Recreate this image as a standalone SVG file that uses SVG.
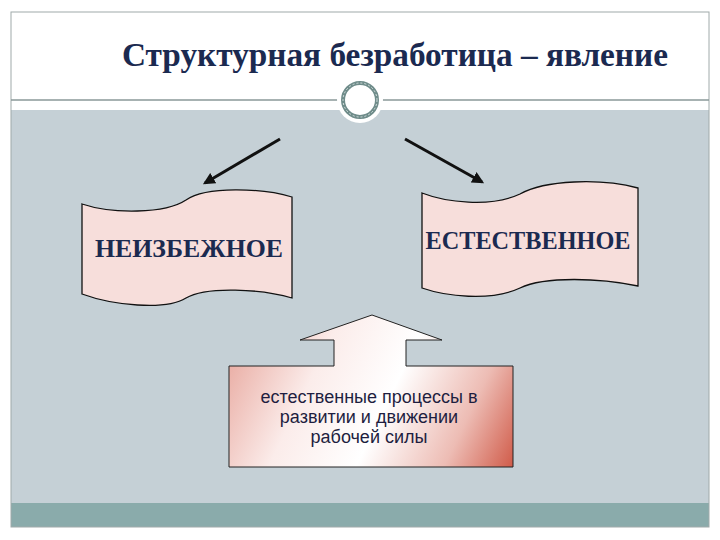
<svg xmlns="http://www.w3.org/2000/svg" width="720" height="540" viewBox="0 0 720 540">
  <style>
    .title{font-family:"Liberation Serif","DejaVu Serif",serif;font-weight:bold;font-size:33px;fill:#1b2a50}
    .banner{fill:#f7dedb;stroke:#111;stroke-width:1.3}
    .btext{font-family:"Liberation Serif","DejaVu Serif",serif;font-weight:bold;font-size:25px;fill:#1b2a50;text-anchor:middle}
    .stext{font-family:"Liberation Sans","DejaVu Sans",sans-serif;font-size:18px;fill:#1e1e40;text-anchor:middle}
    .conn{stroke:#111;stroke-width:3;fill:none;marker-end:url(#ah)}
  </style>
  <defs>
    <marker id="ah" viewBox="0 0 10 10" refX="8" refY="5" markerWidth="4" markerHeight="4" orient="auto" markerUnits="strokeWidth">
      <path d="M0,0 L10,5 L0,10 Z" fill="#111"/>
    </marker>
    <linearGradient id="g" gradientUnits="userSpaceOnUse" x1="229" y1="330" x2="514" y2="467">
      <stop offset="0" stop-color="#e7a49a"/>
      <stop offset="0.3" stop-color="#fbecea"/>
      <stop offset="0.55" stop-color="#ffffff"/>
      <stop offset="0.8" stop-color="#edbcb4"/>
      <stop offset="1" stop-color="#d05a48"/>
    </linearGradient>
  </defs>
  <rect x="0" y="0" width="720" height="540" fill="#ffffff"/>
  <rect x="11" y="110" width="698" height="393" fill="#c5d0d6"/>
  <rect x="11" y="503" width="698" height="24" fill="#8aabab"/>
  <rect x="11" y="12" width="698" height="515" fill="none" stroke="#a0aaaa" stroke-width="1"/>
  <line x1="11" y1="100" x2="709" y2="100" stroke="#8a9898" stroke-width="1.3"/>
  <g id="title">
    <text class="title" x="122" y="66" textLength="546" lengthAdjust="spacingAndGlyphs">Структурная безработица – явление</text>
  </g>
  <g id="ornament">
    <circle cx="360" cy="100" r="23" fill="#ffffff"/>
    <circle cx="360" cy="100" r="17" fill="#ffffff" stroke="#6f8c8a" stroke-width="4"/>
    <circle cx="360" cy="100" r="17" fill="none" stroke="#d5e0df" stroke-width="1" stroke-dasharray="2 2"/>
  </g>
  <g id="connectors">
    <line class="conn" x1="280" y1="139" x2="205" y2="183"/>
    <line class="conn" x1="405" y1="139" x2="482" y2="182"/>
  </g>
  <g id="node-inevitable">
    <path class="banner" d="M82,204 C112,214 165,214 186,200 C206,186 262,188 292,197 L292,298 C262,289 206,286 186,298 C165,311 112,305 82,294 Z"/>
    <text class="btext" x="189" y="257" textLength="188" lengthAdjust="spacingAndGlyphs">НЕИЗБЕЖНОЕ</text>
  </g>
  <g id="node-natural">
    <path class="banner" d="M422,193 C445,202 490,208 520,194 C545,180 600,178 638,188 L638,286 C600,278 545,276 520,288 C490,302 445,296 422,288 Z"/>
    <text class="btext" x="528" y="249" textLength="205" lengthAdjust="spacingAndGlyphs">ЕСТЕСТВЕННОЕ</text>
  </g>
  <g id="node-processes">
    <path d="M229,366 L334,366 L334,340 L300,340 L372,315 L442,340 L406,340 L406,366 L513,366 L513,467 L229,467 Z" fill="url(#g)" stroke="#222" stroke-width="1"/>
    <text class="stext" x="369" y="403">естественные процессы в</text>
    <text class="stext" x="369" y="423">развитии и движении</text>
    <text class="stext" x="369" y="443">рабочей силы</text>
  </g>
</svg>
